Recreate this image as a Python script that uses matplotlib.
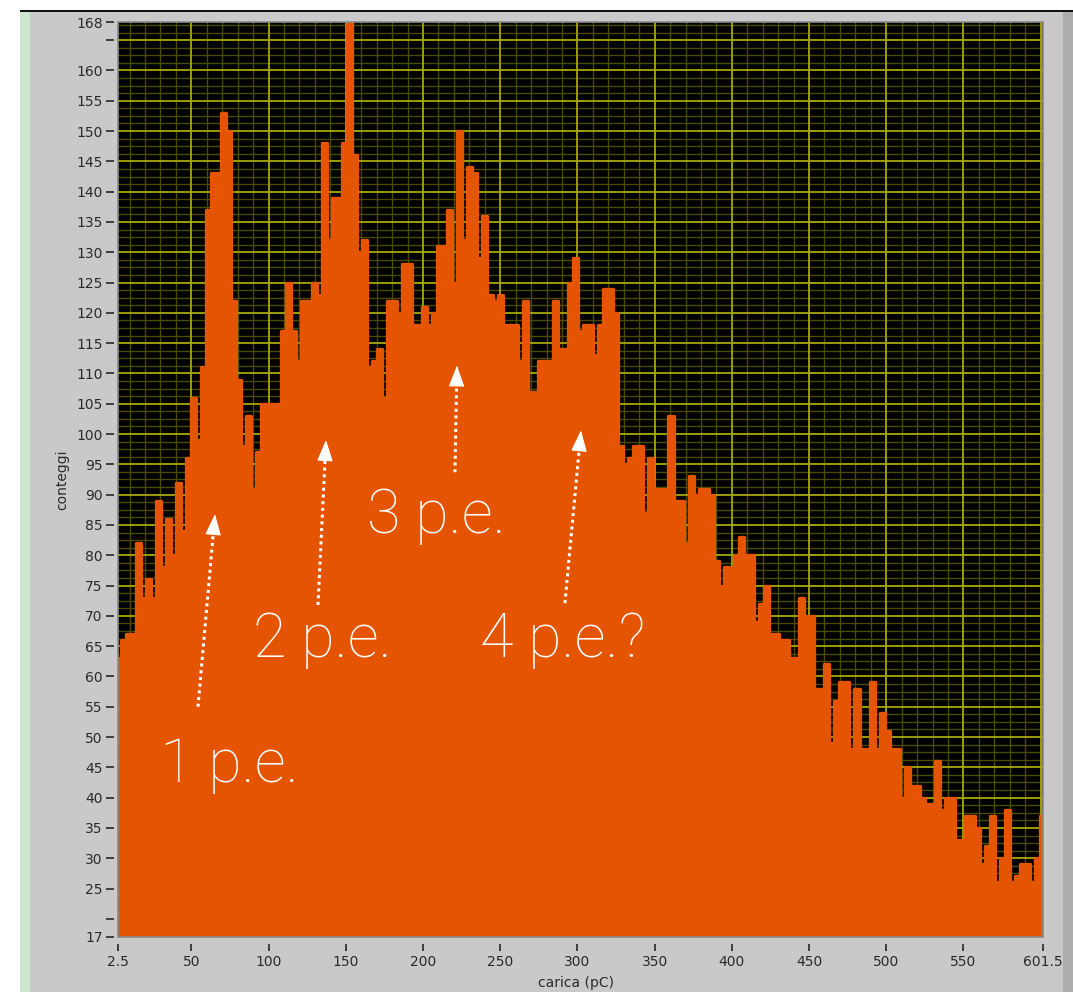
import numpy as np
import matplotlib
matplotlib.use("Agg")
import matplotlib.pyplot as plt
from matplotlib.patches import Rectangle
from matplotlib.ticker import MultipleLocator, FixedLocator

# histogram (185 bins, 2.5 .. 601.5 pC)
x_first, x_last = 2.5, 601.5
counts = [
    63, 66, 67, 67, 82, 73, 76, 73, 89, 78,
    86, 80, 92, 84, 96, 106, 99, 111, 137, 143,
    143, 153, 150, 122, 109, 98, 103, 91, 97, 105,
    105, 105, 105, 117, 125, 117, 112, 122, 122, 125,
    123, 148, 132, 139, 139, 148, 168, 146, 130, 132,
    111, 112, 114, 106, 122, 122, 120, 128, 128, 118,
    118, 121, 118, 120, 131, 131, 137, 125, 150, 132,
    144, 143, 129, 136, 123, 122, 123, 118, 118, 118,
    112, 122, 107, 107, 112, 112, 112, 122, 114, 114,
    125, 129, 117, 118, 118, 113, 118, 124, 124, 120,
    98, 95, 96, 98, 98, 87, 96, 91, 91, 91,
    103, 89, 89, 82, 93, 90, 91, 91, 90, 79,
    75, 78, 78, 80, 83, 80, 80, 69, 72, 75,
    67, 67, 66, 66, 63, 63, 73, 70, 70, 58,
    58, 62, 49, 56, 59, 59, 48, 58, 48, 48,
    59, 48, 54, 51, 48, 48, 40, 45, 42, 42,
    40, 39, 39, 46, 38, 40, 40, 33, 33, 37,
    37, 35, 29, 32, 37, 26, 30, 38, 26, 27,
    29, 29, 26, 30, 37,
]

x_ticks = [2.5, 50, 100, 150, 200, 250, 300, 350, 400, 450, 500, 550, 601.5]
y_ticks = [17, 20] + list(range(25, 165, 5)) + [165, 168]
y_unlabeled = [20, 165]

# annotations: label, text position, arrow start, arrow tip (data coords)
labels = ["1 p.e.", "2 p.e.", "3 p.e.", "4 p.e.?"]
label_pos = [(29.7, 42.6), (89.9, 63.2), (163.7, 83.7), (236.9, 63.2)]
arrow_from = [(54.3, 55.0), (132.0, 71.8), (220.7, 93.7), (291.9, 72.1)]
arrow_to = [(65.3, 86.8), (137.2, 99.0), (222.0, 111.3), (302.3, 100.6)]

ORANGE = "#e55400"
PANEL = "#c9c9c9"

fig = plt.figure(figsize=(10.73, 9.92), dpi=100)
fig.patch.set_facecolor("white")

# LabVIEW front panel look
fig.patches.append(Rectangle((20 / 1073, 0), 1053 / 1073, 981 / 992,
                             transform=fig.transFigure, facecolor=PANEL,
                             edgecolor="none", zorder=-10))
fig.patches.append(Rectangle((20 / 1073, 0), 10 / 1073, 981 / 992,
                             transform=fig.transFigure, facecolor="#cbe5cf",
                             edgecolor="none", zorder=-9))
fig.patches.append(Rectangle((1063 / 1073, 0), 10 / 1073, 981 / 992,
                             transform=fig.transFigure, facecolor="#adadad",
                             edgecolor="none", zorder=-9))
fig.patches.append(Rectangle((20 / 1073, 980 / 992), 1053 / 1073, 2 / 992,
                             transform=fig.transFigure, facecolor="#111111",
                             edgecolor="none", zorder=-8))

ax = fig.add_axes([118 / 1073, 55 / 992, 925 / 1073, 915 / 992])
ax.set_facecolor("black")

n = len(counts)
dx = (x_last - x_first) / (n - 1)
edges = x_first + (np.arange(n + 1) - 0.5) * dx
ax.stairs(counts, edges, fill=True, facecolor=ORANGE, edgecolor=ORANGE,
          lw=2.4, joinstyle="round", zorder=2)

ax.set_xlim(x_first, x_last)
ax.set_ylim(17, 168)

# grid: bright major, dim minor
ax.xaxis.set_minor_locator(MultipleLocator(10))
ax.yaxis.set_minor_locator(MultipleLocator(1.25))
ax.set_axisbelow(True)
for v in range(50, 601, 50):
    ax.axvline(v, color="#a8a800", lw=1.3, zorder=0.6)
for v in range(20, 168, 5):
    ax.axhline(v, color="#a8a800", lw=1.3, zorder=0.6)
ax.grid(which="minor", color="#4a4a00", lw=1.0)
ax.grid(which="major", visible=False)

ax.xaxis.set_major_locator(FixedLocator(x_ticks))
ax.set_xticklabels([f"{t:g}" for t in x_ticks])
ax.yaxis.set_major_locator(FixedLocator(y_ticks))
ax.set_yticklabels(["" if t in y_unlabeled else f"{t:g}" for t in y_ticks])

ax.spines["bottom"].set_position(("outward", 5))
ax.spines["left"].set_position(("outward", 3))
for s in ax.spines.values():
    s.set_visible(False)
ax.add_patch(Rectangle((0, 0), 1, 1, transform=ax.transAxes, fill=False,
                       edgecolor="#8a8a8a", lw=1.2, zorder=5, clip_on=False))

ax.tick_params(which="major", axis="both", colors="#333333", labelsize=10,
               labelcolor="#2a2a2a", width=1.3)
ax.tick_params(which="major", axis="x", length=5, pad=3)
ax.tick_params(which="major", axis="y", length=6, pad=2)
ax.tick_params(which="minor", length=0)

ax.set_xlabel("carica (pC)", fontsize=10, color="#2a2a2a")
ax.xaxis.set_label_coords(0.495, -0.050)
ax.xaxis.label.set_va("center")
ax.set_ylabel("conteggi", fontsize=10, color="#2a2a2a")
ax.yaxis.set_label_coords(-0.0605, 0.5)
ax.yaxis.label.set_va("center")

for txt, pos in zip(labels, label_pos):
    ax.text(pos[0], pos[1], txt, color="white", fontsize=44,
            family=["Roboto", "DejaVu Sans"], weight="light",
            ha="left", va="baseline", zorder=6)

# dotted shafts with solid white heads
for a, b in zip(arrow_from, arrow_to):
    frac = 0.94
    mid = (a[0] + (b[0] - a[0]) * frac, a[1] + (b[1] - a[1]) * frac)
    ax.plot([a[0], mid[0]], [a[1], mid[1]], color="white", lw=2.2,
            ls=(0, (1, 1.2)), zorder=6)
    ax.annotate("", xy=b, xytext=mid,
                arrowprops=dict(arrowstyle="-|>,head_length=0.75,head_width=0.28",
                                color="white", lw=0.8, mutation_scale=18,
                                shrinkA=0, shrinkB=0),
                zorder=6)

fig.savefig("out.png", dpi=100, facecolor=fig.get_facecolor())
